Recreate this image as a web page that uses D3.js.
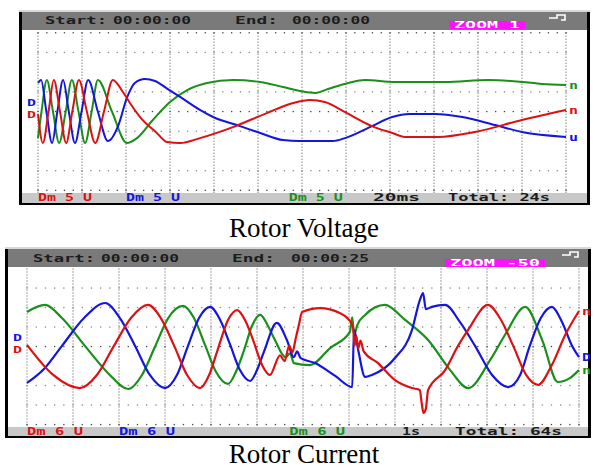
<!DOCTYPE html>
<html>
<head>
<meta charset="utf-8">
<script src="https://cdn.jsdelivr.net/npm/d3@7"></script>
<style>
  html, body { margin: 0; padding: 0; background: #fff; overflow: hidden; }
  svg { display: block; }
</style>
</head>
<body>
<svg id="chart" width="595" height="470"></svg>
<script>
// ---- Rotor voltage record (time and amplitude in screen divisions) ----
const voltageRed = [[0,-0.13],[0.11,-1.60],[0.24,0],[0.36,1.60],[0.50,0],[0.64,-1.60],[0.78,0],[0.93,1.60],[1.11,0],[1.30,-1.60],[1.50,0],[1.70,1.60],[1.93,0.99],[2.09,0.43],[2.32,-0.28],[2.70,-1.09],[2.93,-1.55],[3.23,-1.60],[3.68,-1.35],[4.43,-0.79],[5.20,-0.08],[5.80,0.43],[6.18,0.58],[6.52,0.48],[6.98,-0.03],[7.59,-0.74],[8.05,-1.09],[8.34,-1.29],[9.09,-1.29],[9.93,-1.04],[11.0,-0.43],[12.0,0.08]];
const voltageGreen = [[0,-1.35],[0.08,0],[0.20,1.60],[0.34,0],[0.48,-1.60],[0.63,0],[0.77,1.60],[0.92,0],[1.07,-1.60],[1.22,0],[1.36,1.60],[1.68,0],[2.02,-1.60],[2.25,-1.35],[2.61,-0.43],[3.0,0.48],[3.39,1.09],[3.84,1.45],[4.43,1.60],[5.05,1.50],[5.57,1.24],[5.95,1.04],[6.30,0.94],[6.59,1.14],[7.05,1.45],[7.43,1.60],[8.11,1.50],[9.25,1.50],[10.23,1.60],[11.0,1.50],[11.45,1.40],[12.0,1.35]];
const voltageBlue = [[0,1.45],[0.07,1.60],[0.19,0],[0.32,-1.60],[0.44,0],[0.57,1.60],[0.70,0],[0.84,-1.60],[0.99,0],[1.14,1.60],[1.36,0],[1.59,-1.50],[1.82,-0.74],[2.02,0.69],[2.20,1.45],[2.43,1.65],[2.66,1.55],[2.95,1.14],[3.23,0.74],[3.68,0.08],[3.98,-0.28],[4.59,-0.74],[5.05,-1.09],[5.57,-1.45],[5.95,-1.50],[6.70,-1.50],[6.98,-1.35],[7.59,-0.74],[8.05,-0.28],[8.45,-0.13],[9.02,-0.13],[9.64,-0.28],[10.39,-0.69],[11.0,-1.04],[12.0,-1.29]];

// ---- Rotor current record ----
const currentRed = [[0,0.08],[0.57,-1.46],[1.15,-2.13],[1.52,-1.46],[1.89,0.03],[2.26,1.46],[2.63,2.13],[2.91,1.46],[3.20,0.03],[3.48,-1.46],[3.76,-2.13],[3.96,-1.46],[4.15,-0.13],[4.37,1.36],[4.57,1.87],[4.76,1.26],[4.93,0.23],[5.11,-0.95],[5.28,-1.46],[5.50,-0.45],[5.60,-0.75],[5.70,0.05],[5.77,-0.30],[5.84,0.40],[5.91,1.10],[5.98,1.77],[6.37,1.97],[6.80,1.72],[7.05,1.21],[7.09,0.95],[7.12,0.05],[7.16,0.55],[7.20,-0.10],[7.25,0.30],[7.32,-0.25],[7.63,-0.85],[8.0,-1.72],[8.37,-2.13],[8.54,-2.23],[8.58,-2.90],[8.62,-3.41],[8.67,-3.20],[8.72,-2.23],[9.09,-1.21],[9.37,0.03],[9.59,0.85],[10.02,2.13],[10.28,1.46],[10.57,0.03],[10.85,-1.46],[11.11,-1.97],[11.41,-0.95],[11.70,0.59],[12.0,1.82]];
const currentGreen = [[0,1.77],[0.39,2.13],[0.76,1.46],[1.28,-0.03],[1.80,-1.46],[2.20,-2.18],[2.50,-1.46],[2.78,-0.03],[3.07,1.46],[3.39,2.08],[3.63,1.46],[3.87,0.08],[4.11,-1.31],[4.37,-1.92],[4.54,-1.31],[4.72,-0.18],[4.89,1.05],[5.07,1.62],[5.24,1.05],[5.39,0.33],[5.62,-0.55],[5.72,-0.35],[5.80,-0.85],[6.15,-0.95],[6.59,-0.08],[7.02,0.75],[7.07,1.50],[7.11,0.60],[7.18,1.10],[7.35,1.62],[7.78,2.13],[8.22,1.36],[8.72,0.33],[9.20,-1.21],[9.59,-2.13],[10.07,-0.69],[10.39,0.59],[10.83,2.03],[11.20,0.33],[11.54,-1.82],[11.80,-1.62],[12.0,-1.21]];
const currentBlue = [[0,-1.87],[0.39,-1.10],[0.76,0.03],[1.24,1.46],[1.70,2.23],[2.02,1.46],[2.35,0.03],[2.67,-1.46],[3.0,-2.13],[3.26,-1.46],[3.50,0.03],[3.74,1.46],[3.98,2.03],[4.20,1.36],[4.41,0.13],[4.63,-1.21],[4.85,-1.77],[5.0,-1.21],[5.15,-0.28],[5.43,1.21],[5.65,0.33],[5.80,-0.55],[5.87,-0.25],[5.95,-0.60],[6.26,-0.85],[6.70,-1.51],[7.07,-2.08],[7.11,0.85],[7.20,-0.18],[7.35,-1.56],[7.50,-1.46],[8.0,-0.59],[8.37,0.85],[8.54,2.38],[8.61,2.74],[8.67,1.92],[8.80,2.03],[9.09,2.13],[9.41,1.26],[9.74,0.03],[10.11,-1.46],[10.46,-2.08],[10.72,-1.46],[10.93,0.03],[11.17,1.46],[11.41,2.03],[11.63,1.26],[11.85,0.03],[12.0,-0.54]];

// ---- Screen texts ----
const voltageHeader = ["Start: 00:00:00", "End: 00:00:00", "ZOOM 1"];
const voltageFooter = ["Dm 5 U", "Dm 5 U", "Dm 5 U", "20ms", "Total: 24s"];
const currentHeader = ["Start: 00:00:00", "End: 00:00:25", "ZOOM -50"];
const currentFooter = ["Dm 6 U", "Dm 6 U", "Dm 6 U", "1s", "Total: 64s"];
const captions = ["Rotor Voltage", "Rotor Current"];

const RED = "#dd1111", GREEN = "#1a8f1a", BLUE = "#1515e0";
const MONO = "'DejaVu Sans Mono', monospace";

const svg = d3.select("#chart");

function drawScope(p) {
  const g = svg.append("g");
  const xs = d3.scaleLinear().domain([0, 12]).range([p.plotX0, p.plotX1]);
  const ys = d3.scaleLinear().domain([-4, 4]).range([p.yBottom, p.yTop]);

  // faint shadow above the frame
  g.append("rect").attr("x", p.x0).attr("y", p.top - 2).attr("width", p.x1 - p.x0).attr("height", 2).attr("fill", "#d8d8d8");
  // screen body
  g.append("rect").attr("x", p.x0).attr("y", p.top).attr("width", p.x1 - p.x0).attr("height", p.bottom - p.top).attr("fill", "#fff");
  // header bar
  g.append("rect").attr("x", p.x0).attr("y", p.top).attr("width", p.x1 - p.x0).attr("height", p.headBottom - p.top).attr("fill", "#7a7a7a");
  // footer bar
  g.append("rect").attr("x", p.x0).attr("y", p.bandTop).attr("width", p.x1 - p.x0).attr("height", p.bottom - p.bandTop).attr("fill", "#c8c8c8");
  // frame edges
  g.append("rect").attr("x", p.x0).attr("y", p.top).attr("width", 3).attr("height", p.bottom - p.top + 2).attr("fill", "#000");
  g.append("rect").attr("x", p.x1 - 3).attr("y", p.top).attr("width", 3).attr("height", p.bottom - p.top + 2).attr("fill", "#000");
  g.append("rect").attr("x", p.x0).attr("y", p.bottom).attr("width", p.x1 - p.x0).attr("height", 2).attr("fill", "#000");

  // vertical division lines
  d3.range(0, 13).forEach(i => {
    g.append("line").attr("x1", xs(i)).attr("x2", xs(i))
      .attr("y1", ys(4)).attr("y2", p.bandTop)
      .attr("stroke", "#4a4a4a").attr("stroke-width", 1).attr("stroke-dasharray", "1 2");
  });
  // dotted rows
  p.rows.forEach(r => {
    g.selectAll(null).data(d3.range(0, 61)).enter().append("rect")
      .attr("x", j => xs(j / 5) - 0.6).attr("y", ys(r) - 0.6)
      .attr("width", 1.3).attr("height", 1.3).attr("fill", r === 0 || Math.abs(r) === 4 ? "#444" : "#8a8a8a");
  });

  // waveforms
  const line = d3.line().x(d => xs(d[0])).y(d => ys(d[1])).curve(d3.curveMonotoneX);
  p.series.forEach(s => {
    g.append("path").attr("d", line(s.data)).attr("fill", "none")
      .attr("stroke", s.color).attr("stroke-width", p.lineW).attr("stroke-linejoin", "round");
  });

  // header texts
  const ht = p.header;
  const txt = (x, y, w, s, fill, size) => g.append("text").attr("x", x).attr("y", y)
    .attr("textLength", w).attr("lengthAdjust", "spacingAndGlyphs")
    .attr("font-family", MONO).attr("font-weight", "bold").attr("font-size", size || 10)
    .attr("fill", fill).text(s);
  const [startLbl, startVal] = [ht[0].slice(0, 6), ht[0].slice(7)];
  txt(p.startX, p.headY, p.startW, startLbl, "#1c1c1c");
  txt(p.startX + p.startW + 6, p.headY, p.valW, startVal, "#1c1c1c");
  const [endLbl, endVal] = [ht[1].slice(0, 4), ht[1].slice(5)];
  txt(p.endX, p.headY, p.endW, endLbl, "#1c1c1c");
  txt(p.endValX, p.headY, p.valW, endVal, "#1c1c1c");
  // zoom badge
  g.append("rect").attr("x", p.zoomX).attr("y", p.zoomY).attr("width", p.zoomW).attr("height", 8).attr("fill", "#ff10ff");
  txt(p.zoomX + 5, p.zoomY + 7, p.zoomW - 10, ht[2], "#fff", 9);
  // trigger glyph
  g.append("path").attr("d", `M${p.iconX},${p.iconY + 2}h8v-3h8v5h-4`).attr("fill", "none").attr("stroke", "#fff").attr("stroke-width", 1.6);

  // footer texts
  const ft = p.footer;
  txt(xs(0), p.footY, p.footW, ft[0], RED);
  txt(xs(2), p.footY, p.footW, ft[1], BLUE);
  txt(xs(p.greenFootDiv), p.footY, p.footW, ft[2], GREEN);
  txt(p.tbX, p.footY, p.tbW, ft[3], "#1c1c1c");
  txt(p.totX, p.footY, p.totW, ft[4], "#1c1c1c");

  // channel reference markers on the left
  txt(p.markX, ys(0.3), 9, "D", BLUE, 9);
  txt(p.markX, ys(-0.35), 9, "D", RED, 9);
  // channel end markers on the right
  p.series.forEach(s => {
    const last = s.data[s.data.length - 1];
    txt(p.plotX1 + 3, ys(last[1]) + 4, 9, s.tag, s.color, 10);
  });

  // caption
  g.append("text").attr("x", 304).attr("y", p.capY).attr("text-anchor", "middle")
    .attr("font-family", "'Liberation Serif', 'Times New Roman', serif").attr("font-size", 27)
    .attr("fill", "#000").text(p.caption);
}

drawScope({
  x0: 19, x1: 590, top: 12, headBottom: 30, bandTop: 193, bottom: 203,
  plotX0: 38, plotX1: 566, yBottom: 190.3, yTop: 32.7, lineW: 2,
  rows: [-4, -3, -1, 0, 1, 3, 4],
  series: [
    { data: voltageGreen, color: GREEN, tag: "n" },
    { data: voltageBlue, color: BLUE, tag: "u" },
    { data: voltageRed, color: RED, tag: "n" }
  ],
  header: voltageHeader, headY: 24, startX: 45, startW: 62, valW: 78, endX: 235, endW: 43, endValX: 292,
  zoomX: 449, zoomY: 21, zoomW: 76, iconX: 549, iconY: 16,
  footer: voltageFooter, footY: 201, footW: 54, greenFootDiv: 5.7, tbX: 373, tbW: 47, totX: 448, totW: 102,
  markX: 27, caption: captions[0], capY: 237
});

drawScope({
  x0: 5, x1: 591, top: 249, headBottom: 267, bandTop: 427, bottom: 436,
  plotX0: 27, plotX1: 579, yBottom: 424.5, yTop: 268.5, lineW: 2.2,
  rows: [-4, -3, -2, 0, 1, 2, 3],
  series: [
    { data: currentGreen, color: GREEN, tag: "n" },
    { data: currentBlue, color: BLUE, tag: "D" },
    { data: currentRed, color: RED, tag: "n" }
  ],
  header: currentHeader, headY: 262, startX: 33, startW: 62, valW: 78, endX: 232, endW: 43, endValX: 291,
  zoomX: 445, zoomY: 259, zoomW: 100, iconX: 562, iconY: 253,
  footer: currentFooter, footY: 435, footW: 56, greenFootDiv: 5.7, tbX: 402, tbW: 18, totX: 455, totW: 107,
  markX: 13, caption: captions[1], capY: 463
});
</script>
</body>
</html>
